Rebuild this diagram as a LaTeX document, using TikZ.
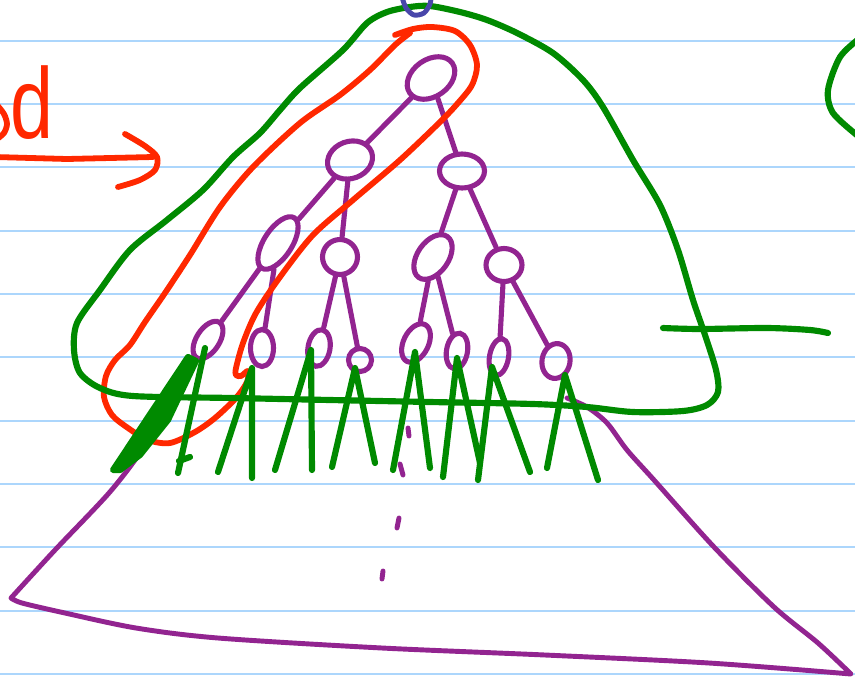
\documentclass[tikz,border=0pt]{standalone}
\usepackage{fontspec}
\newfontfamily\handfont{Liberation Sans}
\usetikzlibrary{shapes.geometric}
\definecolor{inkgreen}{RGB}{0,138,0}
\definecolor{inkpurple}{RGB}{146,36,144}
\definecolor{inkred}{RGB}{255,40,0}
\definecolor{inkblue}{RGB}{72,70,170}
\definecolor{paperblue}{RGB}{172,214,252}

\begin{document}
\begin{tikzpicture}[
    x=0.02cm, y=-0.02cm,
    pen/.style={line width=3.3pt, line cap=round, line join=round},
    paperline/.style={paperblue, line width=1.1pt},
    knot/.style={ellipse, draw=inkpurple, line width=2.9pt, inner sep=0pt},
    branch/.style={inkpurple, line width=2.9pt, line cap=round},
    blade/.style={pen, inkgreen, line width=3.5pt}
]

% ---- paper ----
\fill[white] (0,0) rectangle (855,680);
\useasboundingbox (0,0) rectangle (855,680);
\foreach \k in {0,...,10}
    \draw[paperline] (0,{40.7+63.33*\k}) -- (855,{40.7+63.33*\k});

% ---- big purple triangle and dots ----
\draw[pen, inkpurple, line width=2.8pt]
    plot[smooth] coordinates {(193,360) (167,408) (142,450) (109,493) (55,550) (11,598)}
    -- plot[smooth] coordinates {(11,598) (22,603) (65,613) (136,628) (218,638) (382,648) (545,655) (709,663) (851,674)}
    -- plot[smooth] coordinates {(851,674) (818,643) (774,607) (714,547) (654,480) (627,450) (607,423) (587,407) (567,398)};
\foreach \ya/\xa/\yb/\xb in {428/408/436/409, 464/400/475/403, 518/399/528/397, 571/383/579/382}
    \draw[pen, inkpurple, line width=2.8pt] (\xa,\ya) -- (\xb,\yb);

% ---- tree ----
\node[knot, minimum width=1.04cm, minimum height=0.74cm, rotate=35] (root) at (431,78) {};
\node[knot, minimum width=0.92cm, minimum height=0.74cm, rotate=20] (l1a) at (350,160) {};
\node[knot, minimum width=0.9cm, minimum height=0.68cm] (l1b) at (462,171) {};
\node[knot, minimum width=1.2cm, minimum height=0.56cm, rotate=57] (l2a) at (278,243) {};
\node[knot, minimum width=0.7cm, minimum height=0.7cm] (l2b) at (340,257) {};
\node[knot, minimum width=1.0cm, minimum height=0.62cm, rotate=55] (l2c) at (433,257) {};
\node[knot, minimum width=0.72cm, minimum height=0.66cm] (l2d) at (504,265) {};
\node[knot, minimum width=0.84cm, minimum height=0.46cm, rotate=57] (l3a) at (208,340) {};
\node[knot, minimum width=0.74cm, minimum height=0.46cm, rotate=90] (l3b) at (262,348) {};
\node[knot, minimum width=0.74cm, minimum height=0.44cm, rotate=80] (l3c) at (319,348) {};
\node[knot, minimum width=0.46cm, minimum height=0.46cm] (l3d) at (360,360) {};
\node[knot, minimum width=0.82cm, minimum height=0.5cm, rotate=64] (l3e) at (416,343) {};
\node[knot, minimum width=0.72cm, minimum height=0.42cm, rotate=80] (l3f) at (457,351) {};
\node[knot, minimum width=0.74cm, minimum height=0.38cm, rotate=80] (l3g) at (499,357) {};
\node[knot, minimum width=0.7cm, minimum height=0.56cm, rotate=80] (l3h) at (556,361) {};

\draw[branch] (root) -- (l1a);
\draw[branch] (root) -- (l1b);
\draw[branch] (l1a) -- (l2a);
\draw[branch] (l1a) -- (l2b);
\draw[branch] (l1b) -- (l2c);
\draw[branch] (l1b) -- (l2d);
\draw[branch] (l2a) -- (l3a);
\draw[branch] (l2a) -- (l3b);
\draw[branch] (l2b) -- (l3c);
\draw[branch] (l2b) -- (l3d);
\draw[branch] (l2c) -- (l3e);
\draw[branch] (l2c) -- (l3f);
\draw[branch] (l2d) -- (l3g);
\draw[branch] (l2d) -- (l3h);

% ---- red loop round the left spine ----
\draw[pen, inkred] plot[smooth] coordinates {
    (395,35) (413,29) (432,27) (455,31) (470,45) (477,65) (472,85) (458,103)
    (440,122) (400,160) (353,200) (313,235) (280,277) (256,313) (243,343)
    (236,368) (236,375) (241,376) (248,371) (247,382) (236,398) (215,418)
    (195,432) (170,443) (148,440) (128,428) (112,415) (104,397) (106,376)
    (115,360) (130,345) (145,322) (165,293) (190,255) (220,207) (253,167)
    (300,123) (340,95) (370,70) (395,45) (410,33)};

% ---- green outline ----
\draw[blade] plot[smooth cycle] coordinates {
    (430,6) (460,12) (487,20) (517,33) (553,53) (583,80) (603,107) (633,160)
    (660,205) (678,250) (693,300) (705,335) (716,370) (718,392) (707,405)
    (683,411) (633,412) (587,407) (533,404) (430,402) (330,400) (233,398)
    (133,396) (100,388) (80,373) (74,350) (77,323) (100,290) (130,250)
    (167,220) (203,190) (233,157) (260,133) (280,110) (300,88) (343,50)
    (367,23) (387,12) (410,7)};
\draw[blade] plot[smooth] coordinates {(663,328) (700,329) (767,328) (810,330) (828,333)};
\draw[blade] plot[smooth] coordinates {(860,38) (840,57) (828,90) (833,113) (858,136)};

% ---- green leaves under the bottom row ----
\filldraw[blade] (113,470) -- (188,357) -- (196,361) -- (168,420) -- (140,455) -- (120,470) -- cycle;
\draw[blade] (178,473) -- (205,348);
\draw[blade] (179,461) -- (190,457);
\foreach \xa/\ya/\xb/\yb/\xc/\yc in {
    218/472/252/368/252/478,
    275/470/311/350/312/470,
    332/467/355/368/375/463,
    393/470/415/352/430/468,
    443/477/457/358/480/463,
    478/480/492/367/530/472,
    547/468/565/375/598/480}
    \draw[blade] (\xa,\ya) -- (\xb,\yb) -- (\xc,\yc);

% ---- blue mark at the top ----
\draw[pen, inkblue, line width=2.8pt] plot[smooth] coordinates {(402,-3) (406,8) (414,15) (424,13) (430,4) (431,-3)};

% ---- red arrow and word ----
\draw[pen, inkred] plot[smooth] coordinates {(-3,105) (4,114) (7,124) (4,133) (-3,139)};
\node[inkred, font=\handfont\fontsize{44}{44}\selectfont, anchor=base east, inner sep=0pt] (word) at (54,138) {\scalebox{1}[1.3]{d}};
\draw[pen, inkred] (-5,157) -- (67,159) -- (153,157);
\draw[pen, inkred] plot[smooth] coordinates {(125,134) (145,146) (157,157) (155,170) (140,180) (118,187)};

\end{tikzpicture}
\end{document}
